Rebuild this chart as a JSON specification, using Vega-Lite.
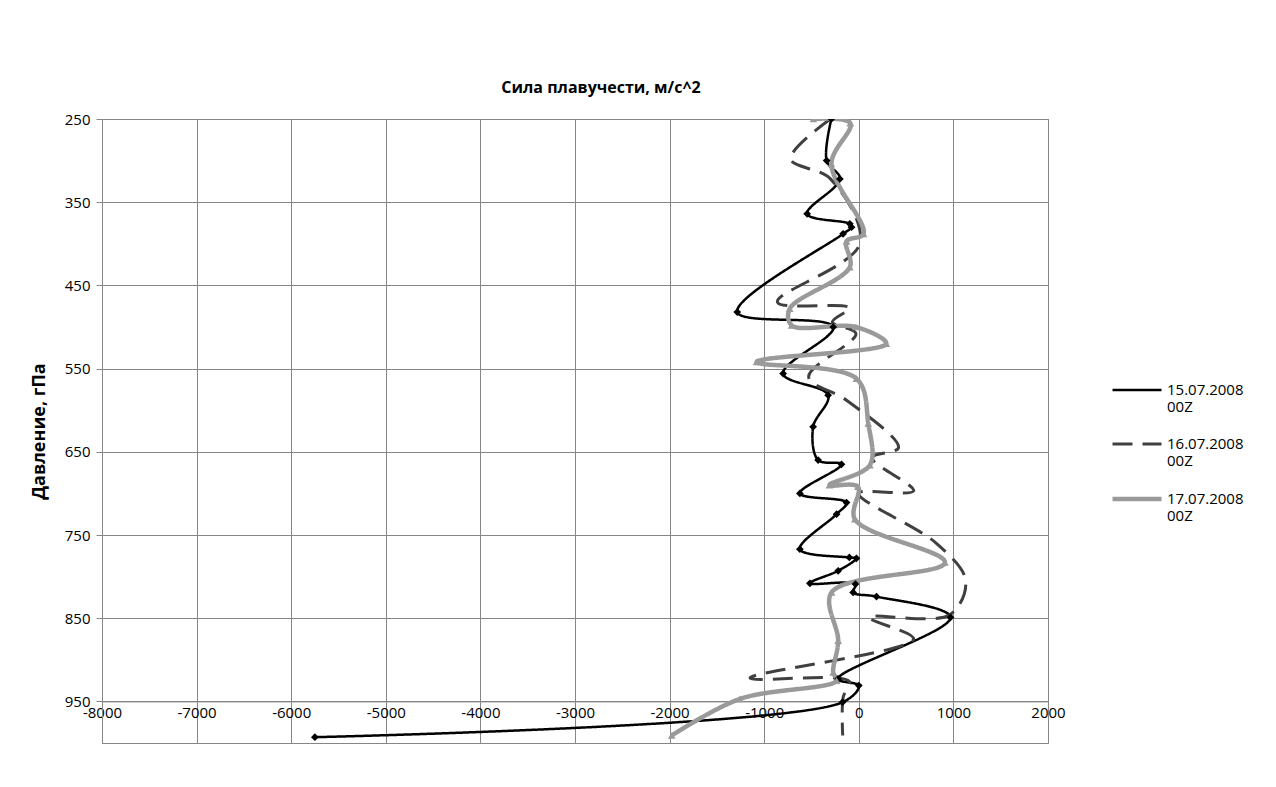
{
  "$schema": "https://vega.github.io/schema/vega-lite/v6.json",
  "autosize": {"type": "none"},
  "width": 946,
  "height": 624,
  "padding": {"left": 102, "top": 119, "right": 228, "bottom": 44},
  "background": "white",
  "config": {
    "font": "Open Sans",
    "view": {"stroke": "#868686", "strokeWidth": 1},
    "axis": {"gridColor": "#868686", "gridWidth": 1, "domainColor": "#868686", "tickColor": "#868686", "labelFont": "Open Sans", "labelFontSize": 15, "labelColor": "#000000", "titleFont": "Open Sans", "titleColor": "#000000"}
  },
  "title": {"text": "Сила плавучести, м/с^2", "anchor": "middle", "offset": 16, "dx": 26, "font": "Open Sans", "fontSize": 16, "fontWeight": "bold", "color": "#000000"},
  "data": {"values": [
    {"s": "15.07.2008 00Z", "p": 250, "v": -290},
    {"s": "15.07.2008 00Z", "p": 300, "v": -340},
    {"s": "15.07.2008 00Z", "p": 322, "v": -200},
    {"s": "15.07.2008 00Z", "p": 364, "v": -546},
    {"s": "15.07.2008 00Z", "p": 376, "v": -95},
    {"s": "15.07.2008 00Z", "p": 380, "v": -77},
    {"s": "15.07.2008 00Z", "p": 388, "v": -166},
    {"s": "15.07.2008 00Z", "p": 482, "v": -1285},
    {"s": "15.07.2008 00Z", "p": 500, "v": -270},
    {"s": "15.07.2008 00Z", "p": 556, "v": -800},
    {"s": "15.07.2008 00Z", "p": 582, "v": -324},
    {"s": "15.07.2008 00Z", "p": 620, "v": -483},
    {"s": "15.07.2008 00Z", "p": 660, "v": -430},
    {"s": "15.07.2008 00Z", "p": 665, "v": -183},
    {"s": "15.07.2008 00Z", "p": 700, "v": -623},
    {"s": "15.07.2008 00Z", "p": 711, "v": -130},
    {"s": "15.07.2008 00Z", "p": 725, "v": -235},
    {"s": "15.07.2008 00Z", "p": 767, "v": -623},
    {"s": "15.07.2008 00Z", "p": 777, "v": -100},
    {"s": "15.07.2008 00Z", "p": 778, "v": -25},
    {"s": "15.07.2008 00Z", "p": 793, "v": -218},
    {"s": "15.07.2008 00Z", "p": 808, "v": -517},
    {"s": "15.07.2008 00Z", "p": 809, "v": -35},
    {"s": "15.07.2008 00Z", "p": 819, "v": -60},
    {"s": "15.07.2008 00Z", "p": 824, "v": 187},
    {"s": "15.07.2008 00Z", "p": 849, "v": 970},
    {"s": "15.07.2008 00Z", "p": 923, "v": -220},
    {"s": "15.07.2008 00Z", "p": 931, "v": 0},
    {"s": "15.07.2008 00Z", "p": 951, "v": -172},
    {"s": "15.07.2008 00Z", "p": 993, "v": -5750},
    {"s": "16.07.2008 00Z", "p": 250, "v": -300},
    {"s": "16.07.2008 00Z", "p": 298, "v": -720},
    {"s": "16.07.2008 00Z", "p": 322, "v": -300},
    {"s": "16.07.2008 00Z", "p": 400, "v": 10},
    {"s": "16.07.2008 00Z", "p": 470, "v": -860},
    {"s": "16.07.2008 00Z", "p": 477, "v": -100},
    {"s": "16.07.2008 00Z", "p": 494, "v": -280},
    {"s": "16.07.2008 00Z", "p": 508, "v": -30},
    {"s": "16.07.2008 00Z", "p": 560, "v": -530},
    {"s": "16.07.2008 00Z", "p": 588, "v": -130},
    {"s": "16.07.2008 00Z", "p": 645, "v": 420},
    {"s": "16.07.2008 00Z", "p": 657, "v": 140},
    {"s": "16.07.2008 00Z", "p": 697, "v": 580},
    {"s": "16.07.2008 00Z", "p": 700, "v": 0},
    {"s": "16.07.2008 00Z", "p": 760, "v": 820},
    {"s": "16.07.2008 00Z", "p": 805, "v": 1130},
    {"s": "16.07.2008 00Z", "p": 846, "v": 960},
    {"s": "16.07.2008 00Z", "p": 849, "v": 110},
    {"s": "16.07.2008 00Z", "p": 875, "v": 580},
    {"s": "16.07.2008 00Z", "p": 922, "v": -1150},
    {"s": "16.07.2008 00Z", "p": 926, "v": -100},
    {"s": "16.07.2008 00Z", "p": 945, "v": -165},
    {"s": "16.07.2008 00Z", "p": 991, "v": -170},
    {"s": "17.07.2008 00Z", "p": 250, "v": -480},
    {"s": "17.07.2008 00Z", "p": 255, "v": -90},
    {"s": "17.07.2008 00Z", "p": 304, "v": -290},
    {"s": "17.07.2008 00Z", "p": 388, "v": 50},
    {"s": "17.07.2008 00Z", "p": 397, "v": -130},
    {"s": "17.07.2008 00Z", "p": 428, "v": -95},
    {"s": "17.07.2008 00Z", "p": 478, "v": -730},
    {"s": "17.07.2008 00Z", "p": 498, "v": -710},
    {"s": "17.07.2008 00Z", "p": 500, "v": -30},
    {"s": "17.07.2008 00Z", "p": 520, "v": 290},
    {"s": "17.07.2008 00Z", "p": 542, "v": -1080},
    {"s": "17.07.2008 00Z", "p": 562, "v": -25},
    {"s": "17.07.2008 00Z", "p": 616, "v": 100},
    {"s": "17.07.2008 00Z", "p": 666, "v": 117},
    {"s": "17.07.2008 00Z", "p": 690, "v": -310},
    {"s": "17.07.2008 00Z", "p": 692, "v": -10},
    {"s": "17.07.2008 00Z", "p": 731, "v": -42},
    {"s": "17.07.2008 00Z", "p": 783, "v": 910},
    {"s": "17.07.2008 00Z", "p": 819, "v": -288},
    {"s": "17.07.2008 00Z", "p": 877, "v": -218},
    {"s": "17.07.2008 00Z", "p": 915, "v": -271},
    {"s": "17.07.2008 00Z", "p": 925, "v": -235},
    {"s": "17.07.2008 00Z", "p": 947, "v": -1257},
    {"s": "17.07.2008 00Z", "p": 991, "v": -1978}
  ]},
  "encoding": {
    "x": {"field": "v", "type": "quantitative",
      "scale": {"domain": [-8000, 2000], "nice": false, "zero": false},
      "axis": {"values": [-8000, -7000, -6000, -5000, -4000, -3000, -2000, -1000, 0, 1000, 2000], "labelExpr": "'' + datum.value", "title": null, "offset": -41.6, "ticks": false, "labelPadding": 4, "grid": true, "labelFlush": false}},
    "y": {"field": "p", "type": "quantitative",
      "scale": {"domain": [250, 1000], "reverse": true, "nice": false, "zero": false},
      "axis": {"values": [250, 350, 450, 550, 650, 750, 850, 950], "labelExpr": "'' + datum.value", "title": "Давление, гПа", "titleFontSize": 18, "titleFontWeight": "bold", "titlePadding": 16, "tickSize": 6, "labelPadding": 6, "grid": true}}
  },
  "layer": [
    {
      "mark": {"type": "line", "interpolate": "catmull-rom", "clip": true},
      "encoding": {
        "order": {"field": "p", "type": "quantitative"},
        "color": {"field": "s", "type": "nominal", "scale": {"domain": ["15.07.2008 00Z", "16.07.2008 00Z", "17.07.2008 00Z"], "range": ["#000000", "#404040", "#9a9a9a"]},
          "legend": {"title": null, "orient": "none", "legendX": 1008, "legendY": 245, "symbolType": "stroke", "symbolSize": 2400, "rowPadding": 3, "labelFontSize": 15, "labelFont": "Open Sans", "labelColor": "#000000", "labelExpr": "split(datum.label, ' ')", "labelOffset": 3}},
        "strokeDash": {"field": "s", "type": "nominal", "scale": {"domain": ["15.07.2008 00Z", "16.07.2008 00Z", "17.07.2008 00Z"], "range": [[1, 0], [20, 10], [1, 0]]},
          "legend": {"title": null, "orient": "none", "legendX": 1008, "legendY": 245, "symbolType": "stroke", "symbolSize": 2400, "rowPadding": 3, "labelFontSize": 15, "labelFont": "Open Sans", "labelColor": "#000000", "labelExpr": "split(datum.label, ' ')", "labelOffset": 3}},
        "strokeWidth": {"field": "s", "type": "nominal", "scale": {"type": "ordinal", "domain": ["15.07.2008 00Z", "16.07.2008 00Z", "17.07.2008 00Z"], "range": [2.5, 3, 4.5]},
          "legend": {"title": null, "orient": "none", "legendX": 1008, "legendY": 245, "symbolType": "stroke", "symbolSize": 2400, "rowPadding": 3, "labelFontSize": 15, "labelFont": "Open Sans", "labelColor": "#000000", "labelExpr": "split(datum.label, ' ')", "labelOffset": 3}}
      }
    },
    {
      "transform": [{"filter": "datum.s != '16.07.2008 00Z'"}],
      "mark": {"type": "point", "filled": true, "opacity": 1, "clip": true},
      "encoding": {
        "color": {"field": "s", "type": "nominal", "legend": null},
        "shape": {"field": "s", "type": "nominal", "scale": {"domain": ["15.07.2008 00Z", "17.07.2008 00Z"], "range": ["diamond", "triangle-up"]}, "legend": null},
        "size": {"value": 60}
      }
    }
  ]
}
